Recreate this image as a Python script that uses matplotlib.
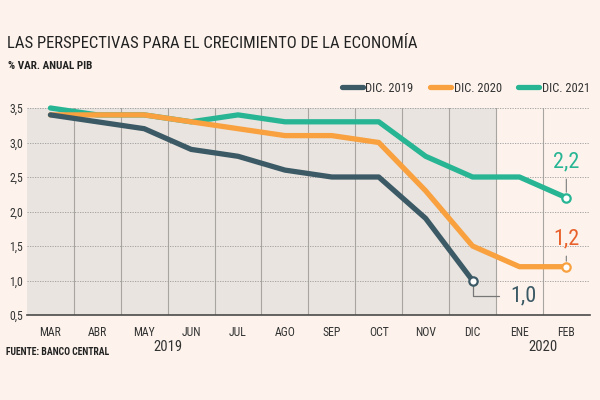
import matplotlib as mpl
mpl.use('Agg')
import matplotlib.pyplot as plt
import matplotlib.transforms as mtransforms
from matplotlib import font_manager
from matplotlib.ticker import FuncFormatter, MultipleLocator

# data (% var. anual PIB)
months = ['MAR', 'ABR', 'MAY', 'JUN', 'JUL', 'AGO', 'SEP', 'OCT', 'NOV', 'DIC', 'ENE', 'FEB']
dic2019 = [3.4, 3.3, 3.2, 2.9, 2.8, 2.6, 2.5, 2.5, 1.9, 1.0]
dic2020 = [3.4, 3.4, 3.4, 3.3, 3.2, 3.1, 3.1, 3.0, 2.3, 1.5, 1.2, 1.2]
dic2021 = [3.5, 3.4, 3.4, 3.3, 3.4, 3.3, 3.3, 3.3, 2.8, 2.5, 2.5, 2.2]
years = ['2019', '2020']

# pick a narrow-ish font if there is one
names = set(f.name for f in font_manager.fontManager.ttflist)
fam = 'DejaVu Sans'
for cand in ['Liberation Sans Narrow', 'Roboto Condensed', 'Open Sans Condensed', 'Roboto', 'Lato']:
    if cand in names:
        fam = cand
        break
plt.rcParams['font.family'] = [fam, 'DejaVu Sans']

bg = '#fdf3ec'
shade = '#e9e4df'
c19 = '#3c5a66'
c20 = '#f9a03f'
c21 = '#27b594'
txt = '#333333'

fig = plt.figure(figsize=(6, 4), dpi=100, facecolor=bg)
ax = fig.add_axes([0.045, 0.2125, 0.938, 0.5175])
ax.set_facecolor(bg)

x = list(range(len(months)))
ax.axvspan(-0.5, 9.5, color=shade, zorder=0, lw=0)

ax.plot(x[:len(dic2021)], dic2021, color=c21, lw=3.8, solid_capstyle='round', zorder=3, clip_on=False, label='DIC. 2021')
ax.plot(x[:len(dic2020)], dic2020, color=c20, lw=3.8, solid_capstyle='round', zorder=4, clip_on=False, label='DIC. 2020')
ax.plot(x[:len(dic2019)], dic2019, color=c19, lw=3.8, solid_capstyle='round', zorder=5, clip_on=False, label='DIC. 2019')

# end points
for ser, col in [(dic2019, c19), (dic2020, c20), (dic2021, c21)]:
    ax.plot(len(ser) - 1, ser[-1], 'o', ms=6, mfc='white', mec=col, mew=1.6, zorder=6, clip_on=False)

ax.set_xlim(-0.5, 11.5)
ax.set_ylim(0.5, 3.5)
ax.set_xticks(x)
ax.set_xticklabels(months)
ax.set_xticks([i + 0.5 for i in x[:-1]], minor=True)
ax.yaxis.set_major_locator(MultipleLocator(0.5))
ax.yaxis.set_major_formatter(FuncFormatter(lambda v, p: ('%.1f' % v).replace('.', ',')))
ax.tick_params(axis='both', which='both', length=0, labelsize=8.5, colors=txt)
ax.tick_params(axis='x', pad=8)
ax.tick_params(axis='y', pad=3)
ax.grid(axis='y', which='major', ls=(0, (1.5, 1.5)), color='#9a9a9a', lw=0.6, zorder=1)
ax.grid(axis='x', which='minor', ls='-', color='#a8a4a0', lw=0.8, zorder=1)
for s in ['top', 'right', 'left']:
    ax.spines[s].set_visible(False)
ax.spines['bottom'].set_color('#4a4a4a')
ax.spines['bottom'].set_linewidth(1.2)
ax.spines['bottom'].set_zorder(7)

# value labels
ax.annotate(('%.1f' % dic2021[-1]).replace('.', ','), xy=(len(dic2021) - 1, dic2021[-1]),
            xytext=(0, 36), textcoords='offset pixels', ha='center', va='center',
            fontsize=16, color=c21,
            arrowprops=dict(arrowstyle='-', color='#888888', lw=0.9, relpos=(0.5, 0),
                            shrinkA=3, shrinkB=4))
ax.annotate(('%.1f' % dic2020[-1]).replace('.', ','), xy=(len(dic2020) - 1, dic2020[-1]),
            xytext=(0, 28), textcoords='offset pixels', ha='center', va='center',
            fontsize=16, color='#e8612c',
            arrowprops=dict(arrowstyle='-', color='#888888', lw=0.9, relpos=(0.5, 0),
                            shrinkA=3, shrinkB=4))
ax.annotate(('%.1f' % dic2019[-1]).replace('.', ','), xy=(len(dic2019) - 1, dic2019[-1]),
            xytext=(51, -15), textcoords='offset pixels', ha='center', va='center',
            fontsize=16, color=c19,
            arrowprops=dict(arrowstyle='-', color='#777777', lw=0.9, relpos=(0, 0.5),
                            connectionstyle='angle,angleA=0,angleB=90,rad=0',
                            shrinkA=6, shrinkB=3))

# years under the month labels
trans = mtransforms.blended_transform_factory(ax.transData, fig.transFigure)
ax.text(2.5, 1 - 347 / 400, years[0], transform=trans, ha='center', va='center', fontsize=10.5, color=txt)
ax.text(10.5, 1 - 347 / 400, years[1], transform=trans, ha='center', va='center', fontsize=10.5, color=txt)

# legend
h, l = ax.get_legend_handles_labels()
order = [2, 1, 0]
ax.legend([h[i] for i in order], [l[i] for i in order], ncol=3, frameon=False,
          loc='center right', bbox_to_anchor=(0.983, 1 - 88 / 400), bbox_transform=fig.transFigure,
          fontsize=9, handlelength=1.7, handletextpad=0.2, columnspacing=1.3,
          labelcolor=txt, borderpad=0, borderaxespad=0)

# titles
fig.text(0.012, 1 - 44 / 400, 'LAS PERSPECTIVAS PARA EL CRECIMIENTO DE LA ECONOMÍA',
         fontsize=12, color='#222222', va='center', ha='left')
fig.text(0.013, 1 - 66 / 400, '% VAR. ANUAL PIB', fontsize=8, color='#222222',
         va='center', ha='left', fontweight='bold')
fig.text(0.01, 1 - 352 / 400, 'FUENTE: BANCO CENTRAL', fontsize=7, color='#222222',
         va='center', ha='left', fontweight='bold')

fig.savefig('out.png', dpi=100, facecolor=bg)
